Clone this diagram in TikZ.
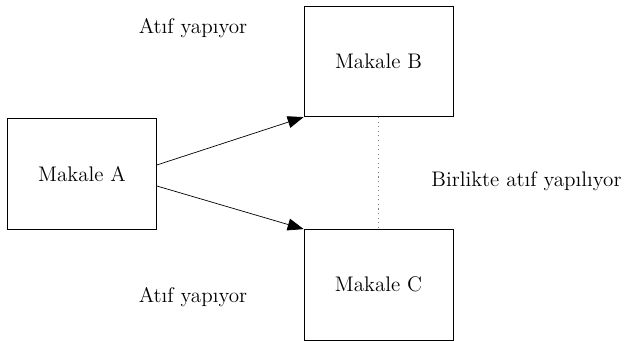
\documentclass[tikz,border=0pt]{standalone}
\usepackage{tikz}
\usetikzlibrary{arrows.meta,positioning}
\tikzset{
    -{Triangle[length=0.32cm,width=0.24cm]},auto,line width=1.1pt,
    paper/.style ={rectangle, draw, minimum width = 2.98cm, minimum height = 2.21cm},
    lbl/.style = {inner sep=0pt},
    cocite/.style={-,dotted,gray,line width=0.6pt}
}
\begin{document}
\begin{tikzpicture}[font=\fontsize{12}{14}\selectfont]
        \useasboundingbox (0,0) rectangle (12.64,6.82);
        \node[paper] (a) at (1.64,3.34) {Makale A};
        \node[paper] (b) at (7.57,5.59) {Makale B};
        \node[paper] (c)[below=2.24cm of b] {Makale C};

        \draw ([yshift=0.18cm]a.east) -- (b.south west);
        \draw ([yshift=-0.24cm]a.east) -- (c.north west);

        \path[cocite] (b) edge (c);

        \node[lbl] (t1) at (3.86,6.26) {Atıf yapıyor};
        \node[lbl] (t2) at (3.86,0.88) {Atıf yapıyor};
        \node[lbl] (t3) at (10.53,3.2) {Birlikte atıf yapılıyor};
\end{tikzpicture}
\end{document}
